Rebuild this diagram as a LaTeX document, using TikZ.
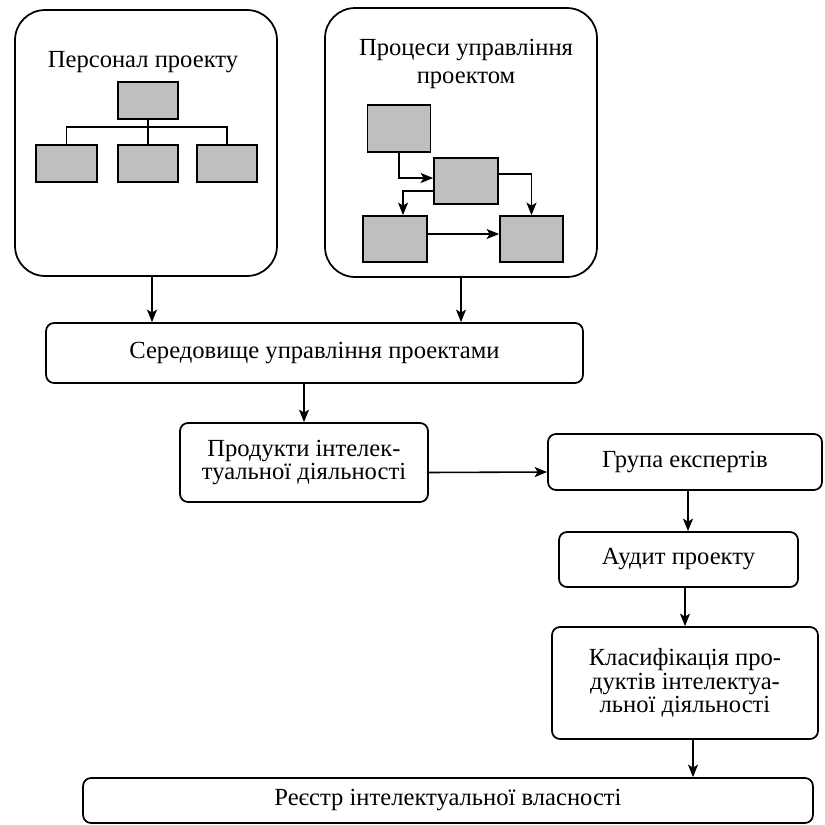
\documentclass[tikz,border=0pt]{standalone}
\usepackage{fontspec}
\setmainfont{Liberation Serif}
\usepackage{tikz}
\usetikzlibrary{arrows.meta}

\begin{document}
\begin{tikzpicture}[
  x=0.02cm, y=-0.02cm,
  font=\fontsize{14}{12}\selectfont,
  panel/.style={draw, line width=1pt, rounded corners=0.6cm, inner sep=0pt},
  stepbox/.style={draw, line width=1pt, rounded corners=0.16cm, align=center, inner sep=0pt},
  block/.style={draw, line width=1pt, fill=black!25, inner sep=0pt},
  link/.style={line width=0.9pt},
  >={Stealth[length=0.25cm,width=0.2cm,inset=0.06cm]},
]
\useasboundingbox (0,0) rectangle (825,825);

\node[panel, minimum width=5.24cm, minimum height=5.32cm] (pers) at (146,143) {};
\node[panel, minimum width=5.44cm, minimum height=5.38cm] (proc) at (461,142.5) {};
\node (perstitle) at (143,62) {Персонал проекту};
\node[align=center, font=\fontsize{14}{15.5}\selectfont] (proctitle) at (466,64) {Процеси управління\\проектом};

\node[block, minimum width=1.2cm, minimum height=0.74cm] (pboss) at (148,100.5) {};
\node[block, minimum width=1.22cm, minimum height=0.74cm] (pa) at (66.5,163.5) {};
\node[block, minimum width=1.2cm, minimum height=0.74cm] (pb) at (148,163.5) {};
\node[block, minimum width=1.2cm, minimum height=0.74cm] (pc) at (227,163.5) {};
\draw[link] (pboss) -- (pb);
\draw[link] (pa.north) -- ++(0,-17) -| (pc.north);

\node[block, minimum width=1.26cm, minimum height=0.94cm] (qa) at (399,128.5) {};
\node[block, minimum width=1.28cm, minimum height=0.92cm] (qb) at (466,181) {};
\node[block, minimum width=1.28cm, minimum height=0.92cm] (qc) at (395,239) {};
\node[block, minimum width=1.26cm, minimum height=0.92cm] (qd) at (531.5,239) {};
\draw[link,->] (qa.south) |- ([yshift=0.06cm]qb.west);
\draw[link,->] ([yshift=0.14cm]qb.east) -| (qd.north);
\draw[link,->] ([yshift=-0.2cm]qb.west) -| ([xshift=0.16cm]qc.north);
\draw[link,->] ([yshift=0.1cm]qc.east) -- ([yshift=0.1cm]qd.west);

\node[stepbox, minimum width=10.74cm, minimum height=1.2cm] (sered) at (314.5,353) {Середовище управління проектами};
\node[stepbox, minimum width=4.96cm, minimum height=1.58cm] (prod) at (304,462.5) {Продукти інтелек-\\туальної діяльності};
\node[stepbox, minimum width=5.48cm, minimum height=1.12cm] (grupa) at (685,462) {Група експертів};
\node[stepbox, minimum width=4.78cm, minimum height=1.1cm] (audit) at (678.5,559.5) {Аудит проекту};
\node[stepbox, minimum width=5.32cm, minimum height=2.24cm] (klas) at (685,683) {Класифікація про-\\дуктів інтелектуа-\\льної діяльності};
\node[stepbox, minimum width=14.6cm, minimum height=0.9cm] (reestr) at (448,800.5) {Реєстр інтелектуальної власності};

\draw[link,->] ([xshift=0.12cm]pers.south) -- ([xshift=0.12cm]pers.south |- sered.north);
\draw[link,->] (proc.south) -- (proc.south |- sered.north);
\draw[link,->] (prod.north |- sered.south) -- (prod.north);
\draw[link,->] ([yshift=-0.2cm]prod.east) -- ([yshift=-0.2cm]grupa.west);
\draw[link,->] ([xshift=0.06cm]grupa.south) -- ([xshift=0.06cm]grupa.south |- audit.north);
\draw[link,->] (klas.north |- audit.south) -- (klas.north);
\draw[link,->] ([xshift=0.16cm]klas.south) -- ([xshift=0.16cm]klas.south |- reestr.north);
\end{tikzpicture}
\end{document}
